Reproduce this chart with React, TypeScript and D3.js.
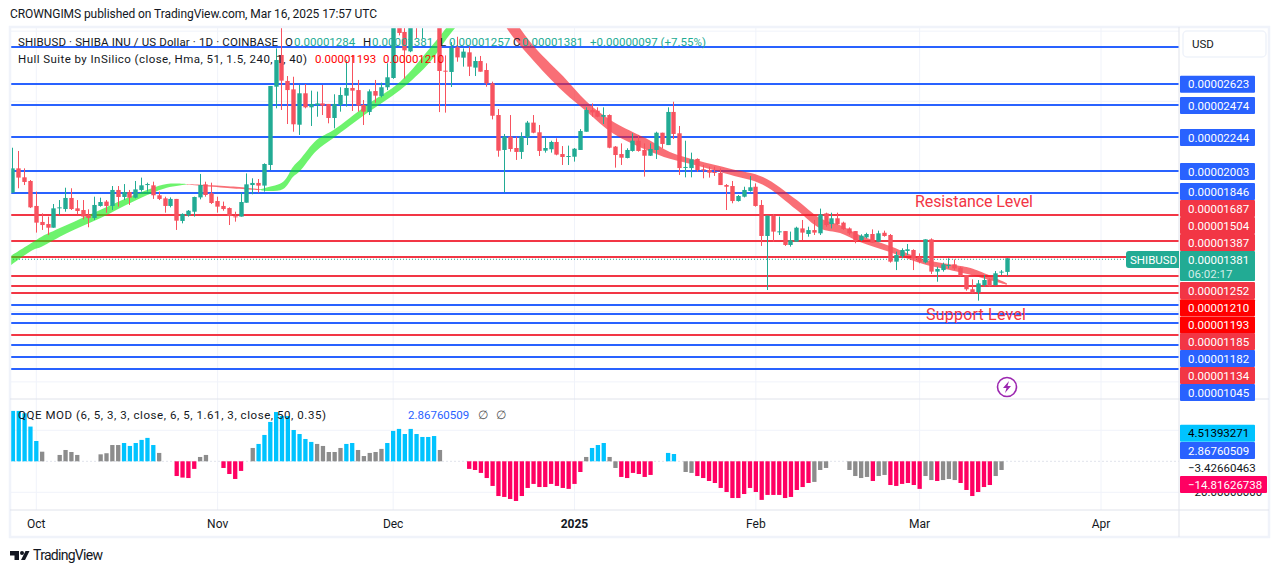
import React, { useEffect, useRef } from 'react';
import * as d3 from 'd3';

// prices are kept in units of 0.00000001 USD, days are counted from Oct 1 2024
const firstDay = -4;

const opens = [
  1849, 2022, 1958, 1932, 1754, 1640, 1625, 1599, 1739, 1732,
  1811, 1737, 1725, 1689, 1668, 1754, 1785, 1754, 1868, 1818,
  1853, 1813, 1868, 1908, 1901, 1830, 1808, 1754, 1804, 1647,
  1687, 1713, 1815, 1908, 1844, 1789, 1754, 1739, 1680, 1678,
  1777, 1903, 1918, 1899, 2046, 2604, 2830, 2645, 2585, 2333,
  2557, 2457, 2474, 2485, 2481, 2381, 2474, 2540, 2595, 2580,
  2474, 2424, 2573, 2538, 2600, 2666, 3100, 2994, 2856, 3200,
  3120, 3300, 3260, 3290, 2718, 2709, 2885, 2811, 2849, 2740,
  2787, 2723, 2628, 2402, 2153, 2248, 2167, 2139, 2243, 2348,
  2279, 2148, 2158, 2210, 2124, 2105, 2105, 2153, 2283, 2438,
  2433, 2390, 2402, 2177, 2124, 2096, 2146, 2219, 2153, 2112,
  2153, 2276, 2188, 2424, 2272, 2027, 2024, 2089, 2015, 2010,
  1996, 1989, 1903, 1896, 1789, 1820, 1861, 1891, 1761, 1540,
  1685, 1568, 1575, 1476, 1499, 1594, 1554, 1582, 1559, 1701,
  1625, 1666, 1635, 1594, 1575, 1511, 1530, 1554, 1499, 1563,
  1547, 1357, 1397, 1433, 1440, 1388, 1352, 1516, 1286, 1297,
  1328, 1338, 1314, 1262, 1160, 1138, 1190, 1231, 1190, 1281,
  1284,
];

const highs = [
  2169, 2146, 2022, 1939, 1856, 1701, 1678, 1768, 1796, 1884,
  1880, 1796, 1796, 1730, 1820, 1813, 1796, 1896, 1896, 1910,
  1868, 1932, 1956, 1920, 1927, 1856, 1820, 1815, 1804, 1701,
  1725, 1820, 1982, 1927, 1920, 1820, 1785, 1744, 1713, 1849,
  1986, 1951, 1946, 2058, 2609, 2877, 3032, 2680, 2675, 2616,
  2623, 2576, 2569, 2616, 2481, 2550, 2600, 2794, 2830, 2652,
  2509, 2585, 2652, 2633, 2771, 3180, 3200, 3040, 3100, 3280,
  3350, 3380, 3340, 3360, 2827, 2922, 2960, 2877, 2889, 2818,
  2823, 2771, 2640, 2445, 2267, 2402, 2248, 2279, 2360, 2402,
  2331, 2243, 2219, 2236, 2181, 2184, 2167, 2302, 2457, 2485,
  2457, 2457, 2407, 2181, 2200, 2165, 2272, 2260, 2200, 2200,
  2283, 2276, 2457, 2497, 2324, 2219, 2134, 2093, 2046, 2034,
  2034, 2022, 1910, 1932, 1832, 1891, 1967, 1915, 1796, 1685,
  1697, 1678, 1575, 1571, 1606, 1654, 1606, 1654, 1735, 1706,
  1706, 1706, 1642, 1601, 1575, 1552, 1563, 1587, 1578, 1578,
  1554, 1428, 1452, 1483, 1445, 1416, 1516, 1523, 1321, 1350,
  1381, 1373, 1321, 1262, 1231, 1226, 1262, 1238, 1290, 1297,
  1381,
];

const lows = [
  1849, 1880, 1903, 1739, 1564, 1583, 1547, 1599, 1689, 1713,
  1725, 1694, 1659, 1602, 1654, 1749, 1706, 1725, 1749, 1796,
  1761, 1808, 1856, 1856, 1804, 1796, 1706, 1744, 1583, 1630,
  1678, 1678, 1801, 1820, 1768, 1706, 1720, 1618, 1642, 1678,
  1777, 1837, 1849, 1856, 2010, 2450, 2438, 2338, 2283, 2260,
  2450, 2324, 2390, 2402, 2343, 2307, 2426, 2462, 2431, 2426,
  2331, 2402, 2490, 2528, 2580, 2660, 2970, 2661, 2850, 2951,
  2946, 3050, 3040, 2423, 2419, 2602, 2782, 2747, 2680, 2680,
  2711, 2604, 2371, 2105, 1851, 2141, 2082, 2089, 2188, 2272,
  2110, 2134, 2134, 2115, 2046, 2046, 2070, 2153, 2283, 2390,
  2386, 2338, 2165, 2027, 2046, 2093, 2141, 2141, 1963, 2110,
  2089, 2165, 2188, 2231, 1975, 1958, 1958, 1998, 1951, 1956,
  1968, 1903, 1725, 1773, 1785, 1815, 1856, 1749, 1469, 1155,
  1499, 1547, 1469, 1464, 1499, 1511, 1535, 1547, 1547, 1606,
  1594, 1618, 1583, 1547, 1488, 1504, 1523, 1492, 1499, 1535,
  1350, 1297, 1381, 1404, 1297, 1345, 1345, 1269, 1214, 1286,
  1309, 1297, 1250, 1150, 1131, 1079, 1179, 1179, 1186, 1262,
  1257,
];

const closes = [
  2022, 1956, 1925, 1744, 1635, 1618, 1599, 1737, 1744, 1811,
  1732, 1718, 1678, 1668, 1761, 1782, 1754, 1868, 1818, 1853,
  1813, 1872, 1901, 1910, 1830, 1804, 1754, 1804, 1649, 1697,
  1720, 1818, 1903, 1832, 1775, 1749, 1732, 1682, 1678, 1782,
  1908, 1918, 1899, 2053, 2609, 2794, 2647, 2580, 2336, 2557,
  2457, 2481, 2485, 2469, 2381, 2481, 2545, 2595, 2576, 2469,
  2426, 2571, 2540, 2600, 2671, 3100, 2987, 2863, 3060, 3120,
  3300, 3260, 3290, 2716, 2712, 2880, 2813, 2854, 2747, 2787,
  2711, 2628, 2397, 2148, 2248, 2160, 2139, 2248, 2348, 2276,
  2146, 2167, 2210, 2120, 2103, 2110, 2162, 2288, 2438, 2421,
  2390, 2402, 2169, 2117, 2098, 2153, 2219, 2146, 2112, 2160,
  2276, 2196, 2424, 2267, 2024, 2032, 2086, 2010, 2008, 1991,
  1989, 1903, 1891, 1789, 1825, 1868, 1887, 1754, 1540, 1685,
  1571, 1573, 1476, 1509, 1599, 1564, 1582, 1564, 1694, 1618,
  1666, 1623, 1590, 1559, 1504, 1542, 1554, 1492, 1559, 1540,
  1357, 1404, 1440, 1445, 1381, 1357, 1516, 1286, 1305, 1338,
  1333, 1309, 1255, 1160, 1136, 1202, 1226, 1183, 1274, 1286,
  1381,
];

// Hull Suite band
const hullDays = [
  -4.4, -0.5, 0.9, 5.2, 10.9, 16.6, 22.3, 25.7, 33.7, 38.2,
  39.4, 42.2, 43.9, 45, 47.9, 50.8, 56.5, 62.2, 67.3, 70.2, 73, 78,
  80, 84.4, 90.1, 94.1, 98.6, 104.3, 108.3, 112.9, 118.6, 124.2,
  130, 134, 137.4, 140.8, 145.9, 151.6, 157.3, 160.1, 165.9,
];
const hullUpper = [
  1396, 1498, 1535, 1618, 1725, 1830, 1911, 1911, 1892, 1873,
  1886, 1927, 2034, 2081, 2224, 2295, 2474, 2640, 2880, 3030, 3210, 3410,
  3200, 2925, 2676, 2497, 2355, 2234, 2139, 2080, 2020, 1961,
  1796, 1666, 1616, 1545, 1469, 1374, 1331, 1307, 1204,
];
const hullLower = [
  1330, 1442, 1464, 1559, 1666, 1786, 1883, 1907, 1879, 1867,
  1860, 1875, 1963, 2000, 2148, 2238, 2414, 2580, 2780, 2950, 3090, 3290,
  3050, 2818, 2568, 2426, 2271, 2153, 2090, 2043, 1976, 1905,
  1725, 1594, 1561, 1497, 1425, 1340, 1287, 1259, 1193,
];
const hullBreaks = [-4.4, 25.7, 38.2, 78, 165.9];
const hullTrend = ['up', 'down', 'up', 'down'];

// horizontal levels drawn on the chart
const blueLevels = [2887, 2623, 2474, 2244, 2003, 1846, 1182, 1045, 986, 922, 765, 680, 594];
const redLevels = [1687, 1504, 1387, 1252, 1185, 1134, 836];

// price scale labels, top to bottom
const priceLabels = [2623, 2474, 2244, 2003, 1846, 1687, 1504, 1387, 1252, 1210, 1193, 1185, 1182, 1134, 1045];
const priceLabelKinds = ['b', 'b', 'b', 'b', 'b', 'r', 'r', 'r', 'r', 'x', 'x', 'r', 'b', 'r', 'b'];
const lastPrice = 1381;

// QQE MOD histogram, first bar on firstDay
const qqeValues = [
  32.5, 32.5, 31, 22.4, 13.1, 6.2, null, null, 4.1, 7.3,
  6, 4.1, null, null, null, 4.5, 5.2, 10.5, 10.5, 11.8,
  9.9, 11.8, 13.8, 15.1, 10.5, 5.4, null, null, -9.5, -10.5,
  -10.8, -4.9, 2.8, 4.1, null, null, -4.3, -8.2, -11.4, -6.2,
  null, 8.6, 11.2, 17, 25.4, 31.8, 29.2, 29.2, 20.2, 17.6,
  14.4, 12.5, 11.2, 9.9, 6, 6, 8.6, 11.2, 11.8, 7.3,
  3.4, 5.4, 6, 8, 11.8, 19.6, 20.9, 17.6, 20.9, 17.6,
  15.7, 15.7, 16.3, 7.3, null, null, null, null, -4.9, -5.6,
  -7.5, -10.8, -15.9, -22.4, -23, -24.3, -25.6, -22.4, -17.2, -14.6,
  -16.6, -16.6, -14.6, -15.9, -17.2, -17.8, -14.6, -6.9, 2.8, 8.6,
  10.5, 11.8, 2.8, -4.3, -10.1, -10.8, -7.5, -8.2, -10.1, -8.8,
  null, null, 5.4, 4.7, null, -6.9, -7.5, -9.5, -10.8, -12.7,
  -14, -17.2, -19.8, -23.7, -23.7, -21.1, -17.2, -19.8, -24.9, -21.7,
  -21.7, -21.7, -23.7, -23, -18.5, -16.6, -14, -13.3, -5.6, -4.3,
  null, null, null, -5.6, -9.5, -10.8, -10.1, -12.7, -9.5, -8.8,
  -15.3, -15.9, -14.6, -14, -15.3, -17.8, -9.5, -12.1, -12.7, -12.1,
  -11.4, -12.1, -14, -18.5, -22.4, -19.8, -16.6, -15.3, -9.5, -5.6,
];
const qqeKinds = [
  'bbbbbg--gg', 'gg---ggggb', 'bbbbbg--pp', 'ppgg--pppp',
  '-gbbbbbbbb', 'bbgggggbbg', 'ggggbbbbbb', 'bbbg----pp',
  'pppppppppp', 'ppppppppgb', 'bbggpppppp', '--bb-ggppp',
  'pppppppppp', 'pppppppggg', '---ggggpgg',
  'ppppppggpg', 'ggppppppgg',
].join('');

const dayTicks = [0, 31, 61, 92, 123, 151, 182];
const dayTickLabels = ['Oct', 'Nov', 'Dec', '2025', 'Feb', 'Mar', 'Apr'];
const priceGrid = [500, 1000, 1500, 2000, 2500, 3000];
const qqeGrid = [-20, 20];

const fontFamily = 'Roboto, sans-serif';
const GREEN = '#22ab94';
const RED = '#f7525f';
const LINE_BLUE = '#2962ff';
const LINE_RED = '#f23645';
const GRID = '#f0f3fa';
const BORDER = '#e0e3eb';
const TEXT = '#131722';
const qqeColors: Record<string, string> = { b: '#00c3ff', g: '#8c8c8c', p: '#ff0062' };
const labelColors: Record<string, string> = { b: LINE_BLUE, r: LINE_RED, x: '#ff0000' };

const App: React.FC = () => {
  const chartRef = useRef<HTMLDivElement | null>(null);

  useEffect(() => {
    if (!chartRef.current) return;

    d3.select(chartRef.current).selectAll('*').remove();

    const svg = d3.select(chartRef.current)
      .append('svg')
      .attr('width', 1281)
      .attr('height', 573)
      .style('position', 'absolute')
      .style('left', 0)
      .style('top', 0)
      .style('font-family', fontFamily);

    const left = 10;
    const axisX = 1179;
    const right = 1269;
    const top = 27;
    const mainBottom = 399;
    const qqeBottom = 510;
    const bottom = 537;

    const x = d3.scaleLinear().domain([0, 166]).range([36.3, 1007.4]);
    const y = d3.scaleLinear().domain([378, 3029.5]).range([mainBottom, top]);
    const yQqe = d3.scaleLinear().domain([-20, 20]).range([492.3, 430.3]);

    const label = (tx: number, ty: number, str: string, color = TEXT, size = 11.5, anchor = 'start') =>
      svg.append('text')
        .attr('x', tx)
        .attr('y', ty)
        .attr('fill', color)
        .attr('font-size', size)
        .attr('text-anchor', anchor)
        .text(str);

    const fmt = (v: number) => (v / 1e8).toFixed(8);

    svg.append('clipPath').attr('id', 'main-clip').append('rect')
      .attr('x', left).attr('y', top).attr('width', axisX - left).attr('height', mainBottom - top);

    // grid
    const grid = svg.append('g').attr('stroke', GRID).attr('stroke-width', 1);
    dayTicks.forEach(d => {
      grid.append('line').attr('x1', x(d)).attr('x2', x(d)).attr('y1', top).attr('y2', qqeBottom);
    });
    priceGrid.forEach(p => {
      grid.append('line').attr('x1', left).attr('x2', axisX).attr('y1', y(p)).attr('y2', y(p));
    });
    qqeGrid.forEach(v => {
      grid.append('line').attr('x1', left).attr('x2', axisX).attr('y1', yQqe(v)).attr('y2', yQqe(v));
    });
    svg.append('line')
      .attr('x1', left).attr('x2', axisX).attr('y1', yQqe(0)).attr('y2', yQqe(0))
      .attr('stroke', BORDER).attr('stroke-dasharray', '2,2');

    const main = svg.append('g').attr('clip-path', 'url(#main-clip)');

    // horizontal levels
    const levelLine = (p: number, color: string) => {
      main.append('line')
        .attr('x1', left).attr('x2', axisX)
        .attr('y1', y(p)).attr('y2', y(p))
        .attr('stroke', color).attr('stroke-width', 2)
        .attr('shape-rendering', 'crispEdges');
    };
    blueLevels.forEach(p => levelLine(p, LINE_BLUE));
    redLevels.forEach(p => levelLine(p, LINE_RED));

    // last price line
    main.append('line')
      .attr('x1', left).attr('x2', axisX)
      .attr('y1', y(lastPrice) + 1).attr('y2', y(lastPrice) + 1)
      .attr('stroke', GREEN).attr('stroke-width', 1).attr('stroke-dasharray', '1,2');

    // hull band
    const hullPoints = hullDays.map((d, i) => ({ d, hi: hullUpper[i], lo: hullLower[i] }));
    const area = d3.area<{ d: number; hi: number; lo: number }>()
      .x(p => x(p.d))
      .y0(p => y(p.lo))
      .y1(p => y(p.hi))
      .curve(d3.curveCatmullRom);
    hullTrend.forEach((t, i) => {
      main.append('path')
        .attr('d', area(hullPoints.filter(p => p.d >= hullBreaks[i] && p.d <= hullBreaks[i + 1])))
        .attr('fill', t === 'up' ? 'rgba(20,235,20,0.62)' : 'rgba(245,30,40,0.64)');
    });

    // candles
    const candles = opens.map((o, i) => ({
      day: firstDay + i, o, h: highs[i], l: lows[i], c: closes[i],
    }));
    const candle = main.selectAll('g.candle').data(candles).enter().append('g').attr('class', 'candle');
    candle.append('line')
      .attr('x1', d => Math.floor(x(d.day)) + 0.5).attr('x2', d => Math.floor(x(d.day)) + 0.5)
      .attr('y1', d => y(d.h)).attr('y2', d => y(d.l))
      .attr('stroke', d => (d.c >= d.o ? GREEN : RED));
    candle.append('rect')
      .attr('x', d => Math.floor(x(d.day)) + 0.5 - 2.2)
      .attr('width', 4.4)
      .attr('y', d => y(Math.max(d.o, d.c)))
      .attr('height', d => Math.max(1, Math.abs(y(d.o) - y(d.c))))
      .attr('fill', d => (d.c >= d.o ? GREEN : RED));

    // qqe histogram
    qqeValues.forEach((v, i) => {
      if (v === null) return;
      const px = x(firstDay + i);
      svg.append('rect')
        .attr('x', Math.max(left, px - 2.15))
        .attr('width', 4.3)
        .attr('y', Math.min(yQqe(v), yQqe(0)))
        .attr('height', Math.abs(yQqe(v) - yQqe(0)))
        .attr('fill', qqeColors[qqeKinds[i]]);
    });

    // frame
    svg.append('rect')
      .attr('x', left).attr('y', top).attr('width', right - left).attr('height', bottom - top)
      .attr('fill', 'none').attr('stroke', GRID).attr('stroke-width', 2.5);
    [[left, right, mainBottom, mainBottom], [left, right, qqeBottom, qqeBottom], [axisX, axisX, top, bottom]]
      .forEach(([x1, x2, y1, y2]) => {
        svg.append('line').attr('x1', x1).attr('x2', x2).attr('y1', y1).attr('y2', y2).attr('stroke', BORDER);
      });

    // header and legends
    label(10, 18, 'CROWNGIMS published on TradingView.com, Mar 16, 2025 17:57 UTC', TEXT, 12).attr('textLength', 367);
    label(18, 46, 'SHIBUSD · SHIBA INU / US Dollar · 1D · COINBASE').attr('textLength', 260);
    [[285, 'O', opens], [363, 'H', highs], [440, 'L', lows], [513, 'C', closes]].forEach(([lx, name, arr]: any) => {
      label(lx, 46, name);
      label(lx + 9, 46, fmt(arr[arr.length - 1]), GREEN);
    });
    label(590, 46, '+0.00000097 (+7.55%)', GREEN);
    label(18, 63, 'Hull Suite by InSilico (close, Hma, 51, 1.5, 240, 1, 40)').attr('textLength', 289);
    label(315, 63, fmt(1193), '#ff0000');
    label(383, 63, fmt(1210), '#ff0000');

    label(18, 419, 'QQE MOD (6, 5, 3, 3, close, 6, 5, 1.61, 3, close, 50, 0.35)').attr('textLength', 308);
    label(408, 419, '2.86760509', LINE_BLUE);
    label(478, 419, '∅', '#555');
    label(496, 419, '∅', '#555');

    label(915, 207, 'Resistance Level', LINE_RED, 16).attr('textLength', 118);
    label(926, 320, 'Support Level', LINE_RED, 16).attr('textLength', 100);

    // price scale
    const labelCenters = [84.3, 105.6, 137.6, 171.6, 191.6, 208.6, 225.6, 242.6, 290.6, 307.7, 325, 341.6, 358.6, 375.6, 392.6];
    const tag = (cy: number, w: number, color: string, str: string, textColor = '#fff') => {
      if (color !== 'none') {
        svg.append('rect')
          .attr('x', axisX + 1).attr('y', cy - 8.5).attr('width', w).attr('height', 17)
          .attr('rx', 1).attr('fill', color);
      }
      label(axisX + 9, cy + 4, str, textColor);
    };
    priceLabels.forEach((p, i) => tag(labelCenters[i], 75, labelColors[priceLabelKinds[i]], fmt(p)));

    svg.append('rect').attr('x', axisX + 1).attr('y', 251).attr('width', 75).attr('height', 30).attr('rx', 1).attr('fill', GREEN);
    label(axisX + 9, 263.5, fmt(lastPrice), '#fff');
    label(axisX + 9, 278, '06:02:17', '#d3eee9');
    svg.append('path').attr('d', 'M1179 251H1129q-3 0-3 3V265q0 3 3 3H1179Z').attr('fill', GREEN);
    label(1130, 264, 'SHIBUSD', '#fff');

    tag(492, 75, 'none', '−20.00000000', TEXT);
    tag(467.6, 75, 'none', '−3.42660463', TEXT);
    tag(433.3, 75, qqeColors.b, '4.51393271', '#000');
    tag(450.6, 75, LINE_BLUE, '2.86760509');
    tag(484.6, 87, qqeColors.p, '−14.81626738');

    // USD button
    svg.append('rect')
      .attr('x', 1183).attr('y', 31).attr('width', 83).attr('height', 26).attr('rx', 4)
      .attr('fill', '#fff').attr('stroke', GRID).attr('stroke-width', 1.5);
    label(1192, 48, 'USD');

    // time axis
    dayTicks.forEach((d, i) => {
      label(x(d), 528, dayTickLabels[i], TEXT, 12, 'middle')
        .attr('font-weight', dayTickLabels[i] === '2025' ? 700 : 400);
    });

    // alert icon
    svg.append('circle').attr('cx', 1007).attr('cy', 387).attr('r', 9.5)
      .attr('fill', '#fff').attr('stroke', '#9c27b0').attr('stroke-width', 1.6);
    svg.append('path').attr('d', 'M1009 381L1003 388H1006.5L1005 393L1011 386H1007.5Z').attr('fill', '#9c27b0');

    // logo
    svg.append('path')
      .attr('d', 'M10 551H19V560H14.5V555.5H10ZM25.5 551H29.5L25 560H21Z')
      .attr('fill', TEXT);
    svg.append('circle').attr('cx', 22).attr('cy', 553).attr('r', 2).attr('fill', TEXT);
    label(33, 560, 'TradingView', TEXT, 14).attr('textLength', 70);
  }, []);

  return <div id="chart" ref={chartRef}></div>;
};

export default App;
